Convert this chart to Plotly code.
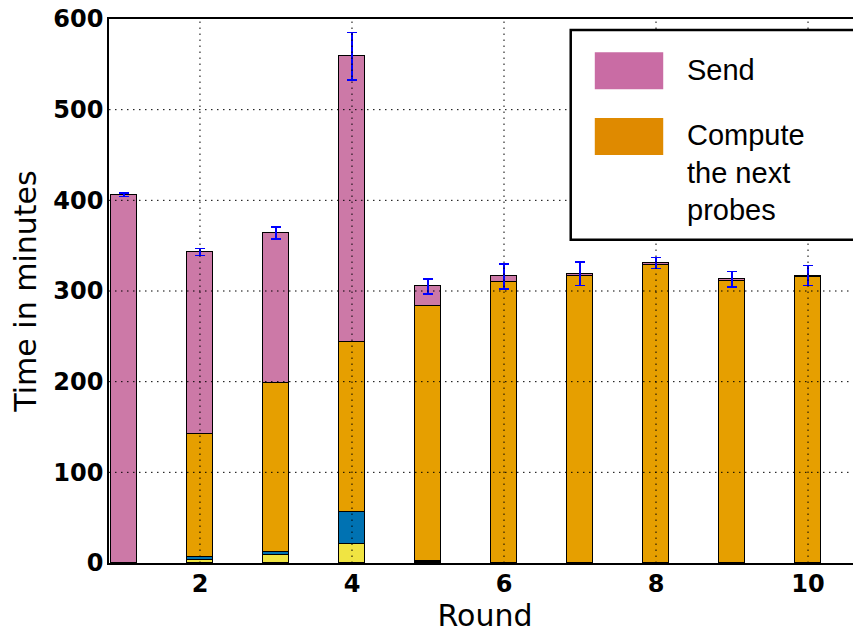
import plotly.graph_objects as go

rounds = [1, 2, 3, 4, 5, 6, 7, 8, 9, 10]
yellow_part = [0, 3.5, 8.5, 20.5, 1, 0, 0, 0, 0, 0]
blue_part = [0, 3.5, 4, 35.5, 1, 0, 0, 0, 0, 0]
compute = [0, 135, 186.5, 188, 281, 310, 316, 329, 311.5, 315.5]
send = [406, 201, 165, 315, 22, 6, 3, 2, 1.5, 1.5]
total_err = [2, 3.7, 6.5, 26, 8.5, 14, 13, 6, 8.5, 11]

x_ticks = [2, 4, 6, 8, 10]
y_ticks = [0, 100, 200, 300, 400, 500, 600]

C_YELLOW = "#F0E442"
C_BLUE = "#0072B2"
C_ORANGE = "#E69F00"
C_PINK = "#CC79A7"

fig = go.Figure()
bar_line = dict(color="black", width=1.5)
W = 0.35
fig.add_trace(go.Bar(x=rounds, y=yellow_part, width=W, marker=dict(color=C_YELLOW, line=bar_line), showlegend=False))
fig.add_trace(go.Bar(x=rounds, y=blue_part, width=W, marker=dict(color=C_BLUE, line=bar_line), showlegend=False))
fig.add_trace(go.Bar(x=rounds, y=compute, width=W, name="Compute the next probes",
                     marker=dict(color=C_ORANGE, line=bar_line), showlegend=False))
fig.add_trace(go.Bar(x=rounds, y=send, width=W, name="Send",
                     marker=dict(color=C_PINK, line=bar_line), showlegend=False,
                     error_y=dict(type="data", array=total_err, color="#0000FF", thickness=1.5, width=5)))

shapes = []
dot = dict(color="black", width=1, dash="1.5px,4.5px")
for xv in x_ticks:
    shapes.append(dict(type="line", xref="x", yref="paper", x0=xv, x1=xv, y0=0, y1=1, line=dot, layer="above"))
for yv in y_ticks[1:-1]:
    shapes.append(dict(type="line", xref="paper", yref="y", x0=0, x1=1, y0=yv, y1=yv, line=dot, layer="above"))

# legend box
shapes.append(dict(type="rect", xref="paper", yref="paper", x0=0.614, x1=0.9947, y0=0.594, y1=0.980,
                   fillcolor="white", line=dict(color="black", width=2.5), layer="above"))
shapes.append(dict(type="rect", xref="paper", yref="paper", x0=0.646, x1=0.737, y0=0.871, y1=0.939,
                   fillcolor="#C96CA4", line=dict(width=0), layer="above"))
shapes.append(dict(type="rect", xref="paper", yref="paper", x0=0.646, x1=0.737, y0=0.750, y1=0.818,
                   fillcolor="#DF8A00", line=dict(width=0), layer="above"))

leg_font = dict(family="Liberation Sans, Arial", size=29, color="black")
annotations = [
    dict(xref="paper", yref="paper", x=0.766, y=0.906, text="Send", showarrow=False,
         xanchor="left", yanchor="middle", align="left", font=leg_font),
    dict(xref="paper", yref="paper", x=0.766, y=0.717, text="Compute<br>the next<br>probes", showarrow=False,
         xanchor="left", yanchor="middle", align="left", font=leg_font),
]

fig.update_layout(
    barmode="stack",
    width=861, height=632,
    margin=dict(l=101, r=8, t=11, b=77),
    paper_bgcolor="white", plot_bgcolor="white",
    shapes=shapes, annotations=annotations,
    bargap=0,
)
tick_font = dict(family="DejaVu Sans", size=24, color="black", weight="bold")
fig.update_xaxes(range=[0.803, 10.697], tickvals=x_ticks, ticktext=[str(v) for v in x_ticks],
                 showgrid=False, zeroline=False, showline=True, mirror=True, linecolor="black", linewidth=1.5,
                 ticks="", ticklen=0, ticklabelstandoff=-2, ticklabeloverflow="allow", tickfont=tick_font,
                 title=dict(text="Round", font=dict(family="DejaVu Sans", size=30, color="black"), standoff=0),
                 automargin=False)
fig.update_yaxes(range=[0, 600], tickvals=y_ticks, ticktext=[str(v) for v in y_ticks],
                 showgrid=False, zeroline=False, showline=True, mirror=False, linecolor="black", linewidth=1.5,
                 ticks="", ticklen=0, ticklabelstandoff=-1, ticklabeloverflow="allow", tickfont=tick_font,
                 title=dict(text="Time in minutes", font=dict(family="DejaVu Sans", size=30, color="black"), standoff=24),
                 automargin=False)

fig.write_html("out.html")
